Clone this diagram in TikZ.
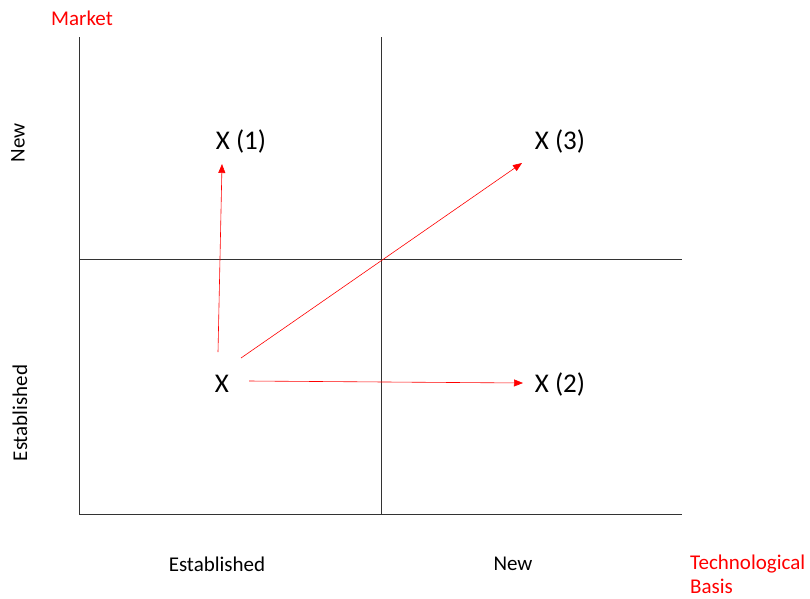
\documentclass[tikz,border=0pt]{standalone}
\usepackage{fontspec}
\setmainfont{Carlito}
\usetikzlibrary{arrows.meta}
\begin{document}
\begin{tikzpicture}[x=1pt,y=-1pt,
  axis/.style={draw=black!80,line width=0.8pt},
  redarrow/.style={draw=red,line width=0.6pt,-{Triangle[length=9pt,width=7pt]}},
  big/.style={font=\fontsize{27}{31}\selectfont,inner sep=0pt},
  lab/.style={font=\fontsize{21}{25}\selectfont,inner sep=0pt},
  redlab/.style={lab,text=red}]
\useasboundingbox (0,0) rectangle (810,598);
% axes
\coordinate (tl) at (79,37);
\coordinate (bl) at (79,514);
\coordinate (br) at (682,514);
\coordinate (mt) at (381,37);
\coordinate (mb) at (381,514);
\coordinate (ml) at (79,259);
\coordinate (mr) at (682,259);
\draw[axis] (tl) -- (bl) -- (br);
\draw[axis] (mt) -- (mb);
\draw[axis] (ml) -- (mr);
% labels
\node[redlab] (market) at (82,18) {Market};
\node[lab,rotate=90] (ynew) at (18,143) {New};
\node[lab,rotate=90] (yest) at (20,413) {Established};
\node[lab] (xest) at (217,564) {Established};
\node[lab] (xnew) at (513,564) {New};
\node[redlab,anchor=west,align=left,font=\fontsize{21}{24}\selectfont] (tech) at (690,574) {Technological\\Basis};
% points
\node[big] (x0) at (222,384) {X};
\node[big] (x1) at (241,141) {X (1)};
\node[big] (x2) at (560,384) {X (2)};
\node[big] (x3) at (560,141) {X (3)};
% arrows
\coordinate (s1) at (218,352);
\coordinate (e1) at (222,164);
\coordinate (s3) at (241,358);
\coordinate (e3) at (522,163);
\coordinate (s2) at (249,381);
\coordinate (e2) at (523,383);
\draw[redarrow] (s1) -- (e1);
\draw[redarrow] (s3) -- (e3);
\draw[redarrow] (s2) -- (e2);
\end{tikzpicture}
\end{document}
